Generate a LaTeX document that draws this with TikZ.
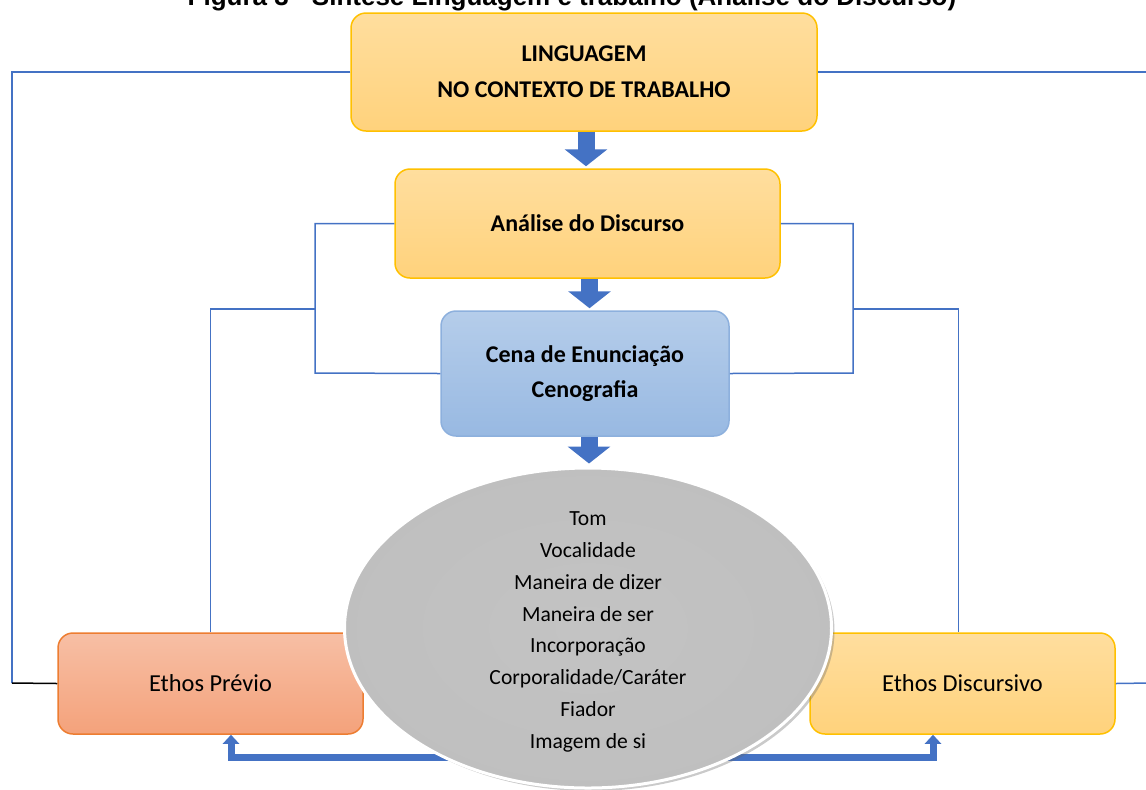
\documentclass[tikz,border=0pt]{standalone}
\usepackage{fontspec}
\setmainfont{Carlito}
\newfontfamily\titlefont{Liberation Sans}
\usetikzlibrary{arrows.meta,shapes.geometric,shadows,calc}
\definecolor{goldline}{HTML}{FFC000}
\definecolor{goldtop}{HTML}{FFDE9E}
\definecolor{goldbot}{HTML}{FFD27C}
\definecolor{bluetop}{HTML}{B5CDEA}
\definecolor{bluebot}{HTML}{98B9E2}
\definecolor{blueline}{HTML}{8DB0DD}
\definecolor{salmtop}{HTML}{F7BFA5}
\definecolor{salmbot}{HTML}{F4A27B}
\definecolor{salmline}{HTML}{ED7D31}
\definecolor{linkblue}{HTML}{4472C4}
\definecolor{ellmid}{HTML}{C3C3C3}
\definecolor{ellgray}{HTML}{BEBEBE}
\definecolor{ellrim}{HTML}{A3A3A3}
\pgfdeclareradialshading{ellshade}{\pgfpoint{0bp}{0bp}}{color(0bp)=(ellmid); color(34bp)=(ellgray); color(46bp)=(ellgray!85!ellrim); color(50bp)=(ellrim)}
\tikzset{
  box/.style={rounded corners=7.5pt, line width=0.75pt, align=center, inner sep=0pt},
  goldbox/.style={box, draw=goldline, top color=goldtop, bottom color=goldbot},
  bluebox/.style={box, draw=blueline, top color=bluetop, bottom color=bluebot},
  salmbox/.style={box, draw=salmline, top color=salmtop, bottom color=salmbot},
  headfont/.style={font=\bfseries\fontsize{12}{18}\selectfont},
  ethosfont/.style={font=\fontsize{12.2}{15}\selectfont},
  link/.style={draw=linkblue, line width=0.75pt},
  blockarrow/.style={draw=linkblue, line width=8.5pt, -{Triangle[width=21pt,length=8.5pt]}, shorten >=1pt},
  thickarrow/.style={draw=linkblue, line width=3.5pt, -{Triangle[width=8pt,length=4.5pt]}}
}
\begin{document}
\begin{tikzpicture}[x=0.5pt,y=-0.5pt]
  \useasboundingbox (0,0) rectangle (1146,789);
  \clip (0,0) rectangle (1146,789);
  \node[anchor=base, font=\titlefont\bfseries\fontsize{13}{15}\selectfont] (title) at (572,5) {Figura 3 - Síntese Linguagem e trabalho (Análise do Discurso)};
  % boxes
  \node[goldbox, headfont, minimum width=233pt, minimum height=59pt] (top) at (584,72) {LINGUAGEM\\NO CONTEXTO DE TRABALHO};
  \node[goldbox, headfont, minimum width=192.5pt, minimum height=54.5pt] (ana) at (587.5,223.5) {Análise do Discurso};
  \node[bluebox, headfont, font=\bfseries\fontsize{12}{17.5}\selectfont, minimum width=144pt, minimum height=62.5pt] (cena) at (585,373.5) {Cena de Enunciação\\Cenografia};
  \node[salmbox, ethosfont, minimum width=152.5pt, minimum height=50.5pt] (prev) at (210.5,683.5) {Ethos Prévio};
  \node[goldbox, ethosfont, minimum width=152.5pt, minimum height=50.5pt] (disc) at (962.5,683.5) {Ethos Discursivo};
  % thin links
  \coordinate (lcorner) at (12,683);
  \coordinate (rtop) at (1150,72);
  \coordinate (rbot) at (1150,683);
  \coordinate (linner) at (315,373);
  \coordinate (lbranch) at (315,309);
  \coordinate (rinner) at (853,373);
  \coordinate (rbranch) at (853,309);
  \draw[link] (top.west) -| (lcorner);
  \draw[black, line width=0.75pt] (lcorner) -- (prev.west);
  \draw[link] (top.east) -- (rtop);
  \draw[link] (disc.east) -- (rbot);
  \draw[link] (ana.west) -| (linner) -- (cena.west);
  \draw[link] (lbranch) -| (prev.north);
  \draw[link] (ana.east) -| (rinner) -- (cena.east);
  \draw[link] (rbranch) -| ($(disc.north)+(-4,0)$);
  % block arrows
  \draw[blockarrow] ($(top.south)+(2,0)$) -- ($(ana.north)+(-1.5,0)$);
  \draw[blockarrow] ($(ana.south)+(2,0)$) -- ($(cena.north)+(4.5,0)$);
  % bottom arrows
  \coordinate (hub) at (588,757);
  \draw[thickarrow] (hub) -| ($(prev.south)+(20.5,0)$);
  \draw[thickarrow] (hub) -| ($(disc.south)+(-29.5,0)$);
  % ellipse
  \node[ellipse, minimum width=243.5pt, minimum height=160pt, inner sep=0pt, shading=ellshade, draw=white, line width=1.5pt,
        drop shadow={shadow xshift=1.5pt, shadow yshift=-1.5pt, opacity=0.35, fill=black!60}] (ell) at (588,628) {};
  \node[align=center, inner sep=0pt, font=\fontsize{10.8}{15.9}\selectfont] (elltext) at (588,632)
        {Tom\\Vocalidade\\Maneira de dizer\\Maneira de ser\\Incorporação\\Corporalidade/Caráter\\Fiador\\Imagem de si};
  \draw[blockarrow, shorten >=1.5pt] ($(cena.south)+(4,0)$) -- ($(ell.north)+(1,0)$);
\end{tikzpicture}
\end{document}
